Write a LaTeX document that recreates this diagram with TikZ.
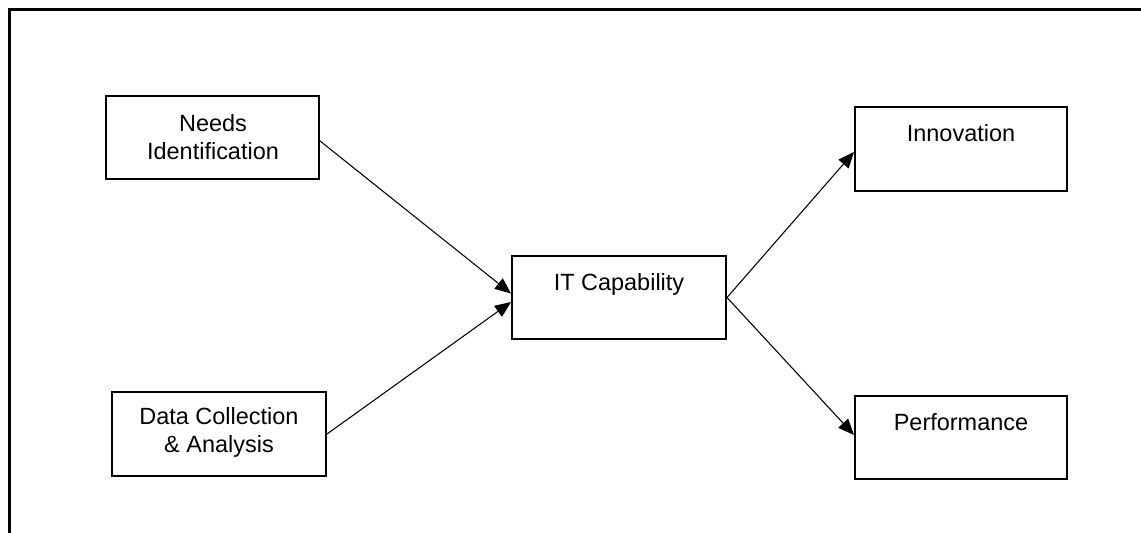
\documentclass[tikz,border=0pt]{standalone}
\usepackage{fontspec}
\setmainfont{Liberation Sans}
\usetikzlibrary{arrows.meta}
\begin{document}
\begin{tikzpicture}[x=0.75pt,y=-0.75pt,
  box/.style={draw,line width=1.5pt,rectangle,inner sep=0pt,minimum height=62.5pt},
  lbl/.style={font=\fontsize{17.6pt}{21pt}\selectfont,align=center,inner sep=0pt},
  conn/.style={line width=0.8pt,-{Triangle[length=12pt,width=10pt]}}]
\useasboundingbox (0,0) rectangle (1141,532);
\begin{scope}
\clip (0,0) rectangle (1141,532);
\draw[line width=2.25pt] (9.5,9.5) rectangle (1200,600);
\end{scope}
\node[box,minimum width=159.75pt] (need) at (212.5,137.5) {};
\node[box,minimum width=160.5pt,minimum height=63pt] (data) at (219,434) {};
\node[box,minimum width=160.5pt] (it) at (619,297.5) {};
\node[box,minimum width=159pt,minimum height=63pt] (inno) at (961,149) {};
\node[box,minimum width=159pt] (perf) at (961,437.5) {};
\node[lbl] (needt) at (213,137) {Needs\\Identification};
\node[lbl] (datat) at (219,432) {Data Collection\\\& Analysis};
\node[lbl,anchor=base] (itt) at (619,290.5) {IT Capability};
\node[lbl,anchor=base] (innot) at (961,141.5) {Innovation};
\node[lbl,anchor=base] (perft) at (961,430.5) {Performance};
\draw[conn] ([yshift=-2.6pt]need.east) -- ([yshift=3pt]it.west);
\draw[conn] (data.east) -- ([yshift=-3.4pt]it.west);
\draw[conn] (it.east) -- ([yshift=-2.25pt]inno.west);
\draw[conn] (it.east) -- ([yshift=1.9pt]perf.west);
\end{tikzpicture}
\end{document}
